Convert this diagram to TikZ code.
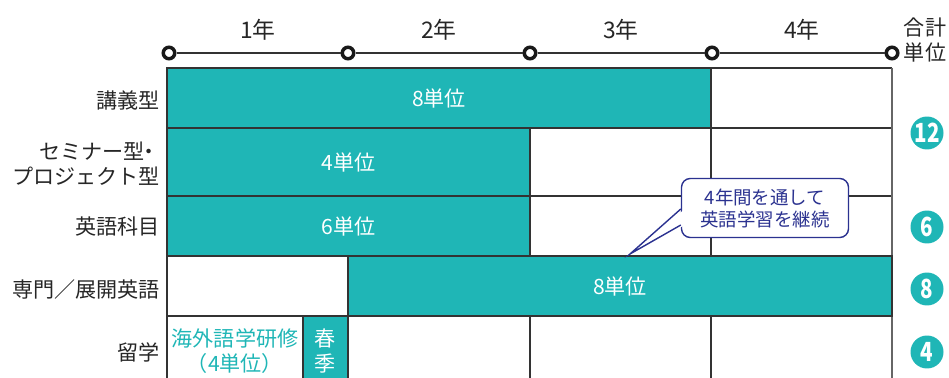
\documentclass[tikz,border=0pt]{standalone}
\usepackage{fontspec}
\setmainfont{Noto Sans CJK JP}
\usetikzlibrary{calc}
\definecolor{tealbar}{HTML}{1FB6B6}
\definecolor{navynote}{HTML}{2B3290}
\newcommand{\narrow}[1]{\scalebox{0.78}[1]{#1}}

\tikzset{
  bar/.style={draw=black!80, line width=0.7pt, fill=barcolor, text=white,
    inner sep=0pt, outer sep=0pt, anchor=north west, align=center,
    font=\fontsize{12}{15}\selectfont},
  rowlabel/.style={anchor=east, align=right, inner sep=0pt, text=black!85,
    font=\fontsize{12}{14.2}\selectfont},
  yearlabel/.style={inner sep=0pt, text=black!85, font=\fontsize{13}{14}\selectfont},
  tick/.style={circle, draw=black!90, line width=2pt, fill=white,
    minimum size=0.23cm, inner sep=0pt},
  total/.style={circle, fill=barcolor, text=white, minimum size=0.66cm,
    inner sep=0pt, font=\bfseries\fontsize{15}{15}\selectfont},
  grid/.style={draw=black!80, line width=0.7pt},
}

\begin{document}
\begin{tikzpicture}[x=0.02cm, y=-0.02cm]

% Define the sizes (in pixels)
\def\px{0.02}
\def\gridtop{68}
\def\gridbot{378}

% Define colors
\colorlet{barcolor}{tealbar}
\colorlet{notecolor}{navynote}

\useasboundingbox (0,0) rectangle (949,378);

% Draw the timeline with the year ticks
\foreach \i/\x in {0/169, 1/348, 2/530, 3/712, 4/892} {
    \node[tick] (t\i) at (\x,53) {};
}
\foreach \a/\b in {0/1, 1/2, 2/3, 3/4} {
    \draw[black!80, line width=0.7pt] (t\a) -- (t\b);
}
\foreach \i/\x in {1/258, 2/439, 3/621, 4/802} {
    \node[yearlabel] (year\i) at (\x,30) {\i 年};
}
\node[yearlabel, align=center, font=\fontsize{12}{14.7}\selectfont] (sumhead) at (925,40) {合計\\単位};

% Draw the empty grid
\foreach \x in {348, 530, 711} {
    \draw[grid] (\x,\gridtop) -- (\x,\gridbot);
}
\foreach \y in {128, 196, 256, 316} {
    \draw[grid] (167,\y) -- (892,\y);
}
\draw[grid] (167,\gridbot) -- (167,\gridtop) -- (892,\gridtop);
\draw[black!60, line width=0.8pt] (892,\gridtop) -- (892,\gridbot);

% Draw the credit bars
\node[bar, minimum width=544*\px cm, minimum height=60*\px cm] (lecture) at (167,68) {8単位};
\node[bar, minimum width=363*\px cm, minimum height=68*\px cm] (seminar) at (167,128) {4単位};
\node[bar, minimum width=363*\px cm, minimum height=60*\px cm] (english) at (167,196) {6単位};
\node[bar, minimum width=544*\px cm, minimum height=60*\px cm] (special) at (348,256) {8単位};
\node[bar, minimum width=45*\px cm, minimum height=70*\px cm, font=\fontsize{12}{14.5}\selectfont] (spring) at (303,316) {春\\季};
\node[align=center, inner sep=0pt, text=barcolor, font=\fontsize{12}{14.5}\selectfont] (abroad) at (235,351) {海外語学研修\\（4単位）};

% Row labels
\node[rowlabel] (rlecture) at (160,100) {講義型};
\node[rowlabel] (rseminar) at (160,164) {セミナー型\kern-0.3em・\\プロジェクト型};
\node[rowlabel] (renglish) at (160,226) {英語科目};
\node[rowlabel] (rspecial) at (160,289) {専門／展開英語};
\node[rowlabel] (rabroad) at (160,352) {留学};

% Totals
\node[total] (sum12) at (927,133) {\narrow{12}};
\node[total] (sum6) at (927,227) {\narrow{6}};
\node[total] (sum8) at (927,289) {\narrow{8}};
\node[total] (sum4) at (927,352) {\narrow{4}};

% Callout
\coordinate (tip) at (630,254);
\node[draw=notecolor, line width=0.8pt, fill=white, rounded corners=5pt,
    minimum width=167*\px cm, minimum height=59*\px cm, inner sep=0pt,
    align=center, text=notecolor, font=\fontsize{10.5}{12.5}\selectfont] (note) at (765,208)
    {4年間を通して\\英語学習を継続};
\fill[white] ($(note.west)+(4,1)$) -- (tip) -- ($(note.west)+(4,17)$) -- cycle;
\draw[notecolor, line width=0.8pt, line join=miter] ($(note.west)+(0,1)$) -- (tip) -- ($(note.west)+(0,17)$);

\end{tikzpicture}
\end{document}
